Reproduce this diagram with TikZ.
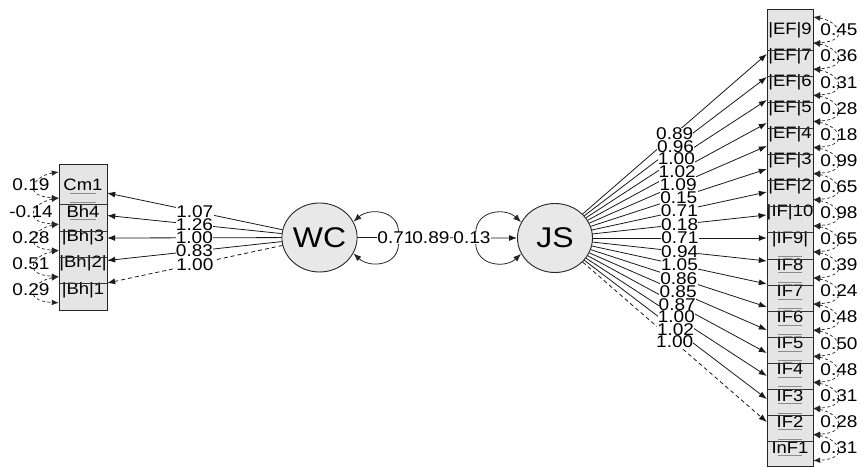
\documentclass[tikz,border=0pt]{standalone}
\usepackage{fontspec}
\setmainfont{Liberation Sans}[FakeStretch=1.12]
\usetikzlibrary{arrows.meta,shapes.geometric,calc}
\begin{document}
\begin{tikzpicture}[x=1pt,y=-1pt,
  lat/.style={ellipse,draw=black!85,line width=0.9pt,fill=black!9,minimum width=75pt,minimum height=69pt,inner sep=0pt,font=\fontsize{28.5}{30}\selectfont},
  obs/.style={minimum width=46pt,minimum height=18pt,inner sep=0pt,font=\fontsize{16.5}{18}\selectfont},
  num/.style={font=\fontsize{17}{18}\selectfont,inner sep=0.5pt},
  coef/.style={num,fill=white,inner sep=0.2pt},
  boxcol/.style={fill=black!10,draw=black!85,line width=0.9pt},
  rowline/.style={draw=black!80,line width=0.8pt},
  bar/.style={draw=black!45,line width=1pt},
  arr/.style={draw=black!90,line width=0.8pt,-{Latex[length=8pt,width=6pt]}},
  darr/.style={arr,dashed,dash pattern=on 4pt off 3pt},
  var/.style={draw=black!85,line width=0.7pt,dash pattern=on 3pt off 2.5pt,{Latex[length=7pt,width=5.5pt]}-{Latex[length=7pt,width=5.5pt]}},
  loopv/.style={draw=black!85,line width=0.8pt,{Latex[length=8pt,width=6pt]}-{Latex[length=8pt,width=6pt]}}
]
\useasboundingbox (0,0) rectangle (862,468);

% ---------- latent variables
\node[lat] (WC) at (319.5,237.5) {WC};
\node[lat] (JS) at (555,238) {JS};

% ---------- left indicator column
\path[boxcol] (59,164) rectangle (107,310);
\foreach \lab/\err [count=\i from 0] in {Cm1/0.19,Bh4/-0.14,{|Bh|3}/0.28,{|Bh|2|}/0.51,{|Bh|1}/0.29}{
  \pgfmathsetmacro\c{185+26.2*\i}
  \node[obs,minimum width=48pt] (L\i) at (83,\c) {\lab};
  \ifnum\i>0 \draw[rowline] (59,{\c-6.5}) -- (107,{\c-6.5}); \fi
  \draw[var] ($(L\i.west)+(0,-13)$) .. controls +(-25,4) and +(-38,-2) .. ($(L\i.west)+(0,13)$);
  \node[num] (EL\i) at (31,\c) {\err};
}
\foreach \i in {0,1}{
  \pgfmathsetmacro\c{185+26.2*\i}
  \draw[bar] (70,{\c+8}) -- (96,{\c+8});
}
\draw[bar] (70,202) -- (96,202);

% ---------- right indicator column
\path[boxcol] (767,9) rectangle (813,466);
\foreach \lab/\err [count=\i from 0] in {{|EF|9}/0.45,{|EF|7}/0.36,{|EF|6}/0.31,{|EF|5}/0.28,{|EF|4}/0.18,{|EF|3}/0.99,{|EF|2}/0.65,{|IF|10}/0.98,{|IF9|}/0.65,IF8/0.39,IF7/0.24,IF6/0.48,IF5/0.50,IF4/0.48,IF3/0.31,IF2/0.28,InF1/0.31}{
  \pgfmathsetmacro\c{30+26.1*\i}
  \node[obs] (R\i) at (790,\c) {\lab};
  \ifnum\i>0 \draw[rowline] (767,{\c-6}) -- (813,{\c-6}); \fi
  \ifnum\i>8
    \draw[bar] (778,{\c-8.5}) -- (802,{\c-8.5});
    \draw[bar] (778,{\c+8}) -- (802,{\c+8});
  \fi
  \draw[var] ($(R\i.east)+(0,-13)$) .. controls +(25,4) and +(38,-2) .. ($(R\i.east)+(0,13)$);
  \node[num] (ER\i) at (839,\c) {\err};
}

% ---------- loadings WC
\foreach \i in {0,...,4}{
  \pgfmathsetmacro\c{185+26.2*\i}
  \pgfmathsetmacro\d{238+22.5*(\i-2)-\c}
  \ifnum\i<4
    \draw[arr] (WC) -- ($(L\i.east)+(0,\d)$) coordinate[midway] (ml\i);
  \else
    \draw[darr] (WC) -- ($(L\i.east)+(0,\d)$) coordinate[midway] (ml\i);
  \fi
}
% ---------- loadings JS
\foreach \i in {0,...,16}{
  \pgfmathsetmacro\c{30+26.1*\i}
  \pgfmathsetmacro\d{238+23*(\i-8)-\c}
  \ifnum\i<16
    \draw[arr] (JS) -- ($(R\i.west)+(0,\d)$) coordinate[midway] (mr\i);
  \else
    \draw[darr] (JS) -- ($(R\i.west)+(0,\d)$) coordinate[midway] (mr\i);
  \fi
}

% ---------- structural path and variances
\draw[arr] (WC.east) -- (JS.west) coordinate[pos=0.46] (mp);
\draw[loopv] (WC.25) .. controls (370,207) and (403,210) .. (398,238) coordinate (wcv)
   .. controls (403,266) and (370,269) .. (WC.-25);
\draw[loopv] (JS.155) .. controls (505,207) and (472,210) .. (476,238) coordinate (jsv)
   .. controls (472,266) and (505,269) .. (JS.-155);

% ---------- labels
\foreach \i/\v in {0/1.07,1/1.26,2/1.00,3/0.83,4/1.00}{
  \node[coef] at (ml\i) {\v};
}
\foreach \i/\v in {0/0.89,1/0.96,2/1.00,3/1.02,4/1.09,5/0.15,6/0.71,7/0.18,8/0.71,9/0.94,10/1.05,11/0.86,12/0.85,13/0.87,14/1.00,15/1.02,16/1.00}{
  \node[coef] at (mr\i) {\v};
}
\node[coef] at ([xshift=-2pt]wcv) {0.71};
\node[coef] at (mp) {0.89};
\node[coef] at ([xshift=-4pt]jsv) {0.13};
\end{tikzpicture}
\end{document}
